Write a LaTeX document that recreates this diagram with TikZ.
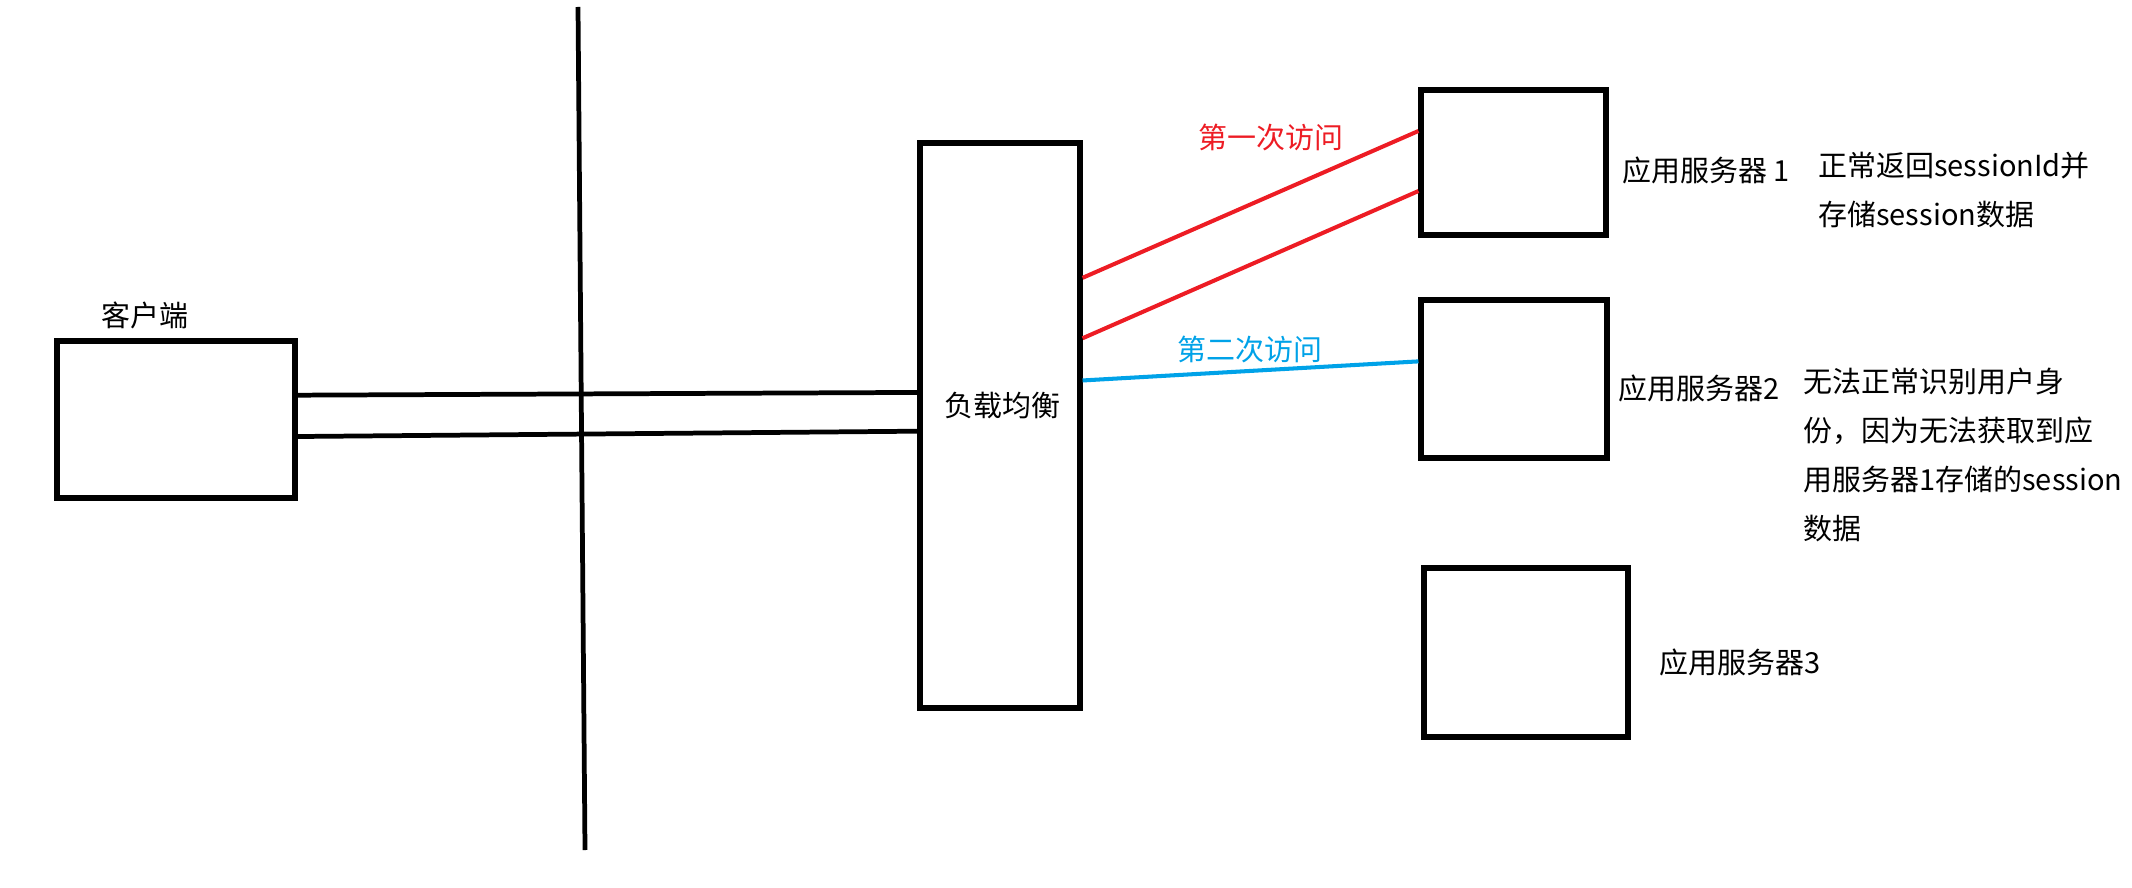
\documentclass[tikz,border=0pt]{standalone}
\usepackage{fontspec}
\newfontfamily\cjk{Noto Sans CJK SC}
\usetikzlibrary{calc}
\definecolor{firstred}{RGB}{237,28,36}
\definecolor{secondblue}{RGB}{0,162,232}
\begin{document}
\begin{tikzpicture}[
   x=0.02cm,y=-0.02cm,
   box/.style={draw,line width=2.9pt,inner sep=0pt},
   link/.style={line width=2.7pt},
   visit/.style={line width=2.3pt},
   lbl/.style={inner sep=0pt,font=\cjk\fontsize{16.5}{27.8}\selectfont},
   every node/.style={}
 ]
  \useasboundingbox (0,0) rectangle (2132,888);
  % divider
  \coordinate (wt) at (578,7);
  \coordinate (wb) at (585,850);
  \draw[link] (wt)--(wb);
  % boxes
  \node[box,minimum width=238*0.02cm,minimum height=157*0.02cm] (client) at (176,419.5) {};
  \node[box,minimum width=160*0.02cm,minimum height=565*0.02cm] (lb) at (1000,425.5) {};
  \node[box,minimum width=185*0.02cm,minimum height=145*0.02cm] (s1) at (1513.5,162.5) {};
  \node[box,minimum width=186*0.02cm,minimum height=158*0.02cm] (s2) at (1514,379) {};
  \node[box,minimum width=204*0.02cm,minimum height=169*0.02cm] (s3) at (1526,652.5) {};
  % labels
  \node[lbl] (clientlbl) at (145,315) {客户端};
  \node[lbl] (lblbl) at (1002,405) {负载均衡};
  \node[lbl,anchor=west] (s1lbl) at (1622,170) {应用服务器 1};
  \node[lbl,anchor=west] (s2lbl) at (1618,388) {应用服务器2};
  \node[lbl,anchor=west] (s3lbl) at (1659,662) {应用服务器3};
  \node[lbl,anchor=north west,align=left] (s1note) at (1818,152) {正常返回sessionId并\\存储session数据};
  \node[lbl,anchor=north west,align=left] (s2note) at (1803,368) {无法正常识别用户身\\份，因为无法获取到应\\用服务器1存储的session\\数据};
  \node[lbl,text=firstred] (firstlbl) at (1271,137) {第一次访问};
  \node[lbl,text=secondblue] (secondlbl) at (1250,349) {第二次访问};
  % client to load balancer
  \draw[link] ($(client.north east)!0.35!(client.south east)$)--($(lb.north west)!0.442!(lb.south west)$);
  \draw[link] ($(client.north east)!0.605!(client.south east)$)--($(lb.north west)!0.51!(lb.south west)$);
  % load balancer to servers
  \draw[visit,firstred] ($(lb.north east)!0.241!(lb.south east)$)--($(s1.north west)!0.29!(s1.south west)$);
  \draw[visit,firstred] ($(lb.north east)!0.347!(lb.south east)$)--($(s1.north west)!0.69!(s1.south west)$);
  \draw[visit,secondblue] ($(lb.north east)!0.421!(lb.south east)$)--($(s2.north west)!0.392!(s2.south west)$);
 \end{tikzpicture}
\end{document}
